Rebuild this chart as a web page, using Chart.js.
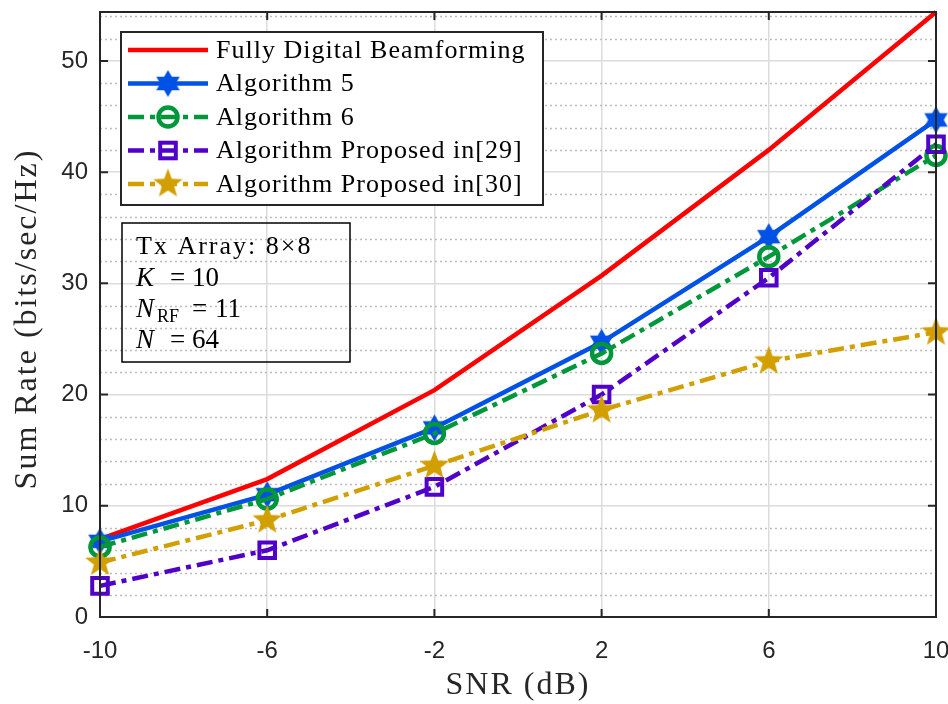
<!DOCTYPE html>
<html>
<head>
<meta charset="utf-8">
<script src="https://cdn.jsdelivr.net/npm/chart.js@4.4.1/dist/chart.umd.min.js"></script>
<style>
  html, body { margin: 0; padding: 0; background: #fff; }
  #wrap { position: relative; width: 948px; height: 704px; }
</style>
</head>
<body>
<div id="wrap"><canvas id="chart" width="948" height="704"></canvas></div>
<script>
// --- data ---
const snrDb = [-10, -6, -2, 2, 6, 10];
const fullyDigital = [7.0, 12.4, 20.4, 30.7, 42.0, 54.4];
const algorithm5 = [6.8, 11.0, 17.0, 24.7, 34.2, 44.7];
const algorithm6 = [6.3, 10.6, 16.5, 23.7, 32.4, 41.5];
const proposed29 = [2.8, 6.0, 11.7, 20.0, 30.5, 42.5];
const proposed30 = [4.9, 8.7, 13.6, 18.6, 23.0, 25.6];
const yTicks = [0, 10, 20, 30, 40, 50];
const seriesLabels = [
    'Fully Digital Beamforming',
    'Algorithm 5',
    'Algorithm 6',
    'Algorithm Proposed in[29]',
    'Algorithm Proposed in[30]',
];

const SERIF = '"Liberation Serif", "DejaVu Serif", serif';
const SANS = '"Liberation Sans", Arial, sans-serif';
const AXIS_COLOR = '#262626';

const COLORS = {
    red: '#ff0000',
    blue: '#0051e6',
    green: '#00963a',
    purple: '#5000c8',
    gold: '#d29f00',
};
const DASH_DOT = [16, 6, 5, 6];

// filled star marker drawn onto a small canvas (used as pointStyle)
function starMarker(points, outer, innerRatio, color) {
    const size = Math.ceil(outer * 2 + 4);
    const c = document.createElement('canvas');
    c.width = size;
    c.height = size;
    const ctx = c.getContext('2d');
    ctx.translate(size / 2, size / 2);
    ctx.beginPath();
    for (let i = 0; i < points * 2; i++) {
        const r = i % 2 === 0 ? outer : outer * innerRatio;
        const a = -Math.PI / 2 + i * Math.PI / points;
        const px = r * Math.cos(a), py = r * Math.sin(a);
        if (i === 0) ctx.moveTo(px, py); else ctx.lineTo(px, py);
    }
    ctx.closePath();
    ctx.fillStyle = color;
    ctx.fill();
    return c;
}

const hexagram = starMarker(6, 13.5, 0.577, COLORS.blue);
const pentagram = starMarker(5, 15.5, 0.42, COLORS.gold);

const toPoints = (arr) => snrDb.map((x, i) => ({ x, y: arr[i] }));

const datasets = [
    {
        label: seriesLabels[0], data: toPoints(fullyDigital),
        borderColor: COLORS.red, borderWidth: 4.5, pointRadius: 0, order: 5,
    },
    {
        label: seriesLabels[1], data: toPoints(algorithm5),
        borderColor: COLORS.blue, borderWidth: 4.5, pointStyle: hexagram, pointRadius: 13, order: 4,
    },
    {
        label: seriesLabels[2], data: toPoints(algorithm6),
        borderColor: COLORS.green, borderWidth: 4.5, borderDash: DASH_DOT,
        pointStyle: 'circle', pointRadius: 9.5, pointBorderWidth: 4.5,
        pointBackgroundColor: 'rgba(0,0,0,0)', pointBorderColor: COLORS.green, order: 3,
    },
    {
        label: seriesLabels[3], data: toPoints(proposed29),
        borderColor: COLORS.purple, borderWidth: 4.5, borderDash: DASH_DOT,
        pointStyle: 'rect', pointRadius: 11, pointBorderWidth: 4,
        pointBackgroundColor: 'rgba(0,0,0,0)', pointBorderColor: COLORS.purple, order: 2,
    },
    {
        label: seriesLabels[4], data: toPoints(proposed30),
        borderColor: COLORS.gold, borderWidth: 4.5, borderDash: DASH_DOT,
        pointStyle: pentagram, pointRadius: 15, order: 1,
    },
];
datasets.forEach(ds => { ds.fill = false; ds.tension = 0; ds.clip = false; });

// legend markers, same look as the plotted ones
function drawLegendMarker(ctx, idx, x, y) {
    ctx.save();
    ctx.setLineDash([]);
    if (idx === 1) ctx.drawImage(hexagram, x - hexagram.width / 2, y - hexagram.height / 2);
    if (idx === 4) ctx.drawImage(pentagram, x - pentagram.width / 2, y - pentagram.height / 2);
    if (idx === 2) {
        ctx.beginPath();
        ctx.arc(x, y, 9.5, 0, Math.PI * 2);
        ctx.lineWidth = 4.5;
        ctx.strokeStyle = COLORS.green;
        ctx.stroke();
    }
    if (idx === 3) {
        ctx.lineWidth = 4;
        ctx.strokeStyle = COLORS.purple;
        ctx.strokeRect(x - 7.8, y - 7.8, 15.6, 15.6);
    }
    ctx.restore();
}

const frameAndExtras = {
    id: 'frameAndExtras',
    beforeDatasetsDraw(chart) {
        // dotted minor grid along y
        const { ctx, chartArea: a, scales: { y } } = chart;
        ctx.save();
        ctx.strokeStyle = '#bdbdbd';
        ctx.lineWidth = 1.5;
        ctx.setLineDash([2, 3]);
        for (let v = 2; v < 54.4; v += 2) {
            if (v % 10 === 0) continue;
            const py = Math.round(y.getPixelForValue(v)) + 0.5;
            ctx.beginPath();
            ctx.moveTo(a.left, py);
            ctx.lineTo(a.right, py);
            ctx.stroke();
        }
        ctx.restore();
    },
    afterDatasetsDraw(chart) {
        const { ctx, chartArea: a, scales: { x, y } } = chart;
        ctx.save();
        // axes box + inward ticks
        ctx.strokeStyle = AXIS_COLOR;
        ctx.lineWidth = 2;
        ctx.strokeRect(a.left, a.top, a.right - a.left, a.bottom - a.top);
        const tl = 8;
        ctx.beginPath();
        snrDb.forEach(v => {
            const px = x.getPixelForValue(v);
            ctx.moveTo(px, a.bottom); ctx.lineTo(px, a.bottom - tl);
            ctx.moveTo(px, a.top); ctx.lineTo(px, a.top + tl);
        });
        yTicks.forEach(v => {
            const py = y.getPixelForValue(v);
            ctx.moveTo(a.left, py); ctx.lineTo(a.left + tl, py);
            ctx.moveTo(a.right, py); ctx.lineTo(a.right - tl, py);
        });
        ctx.stroke();

        // axis titles
        ctx.fillStyle = AXIS_COLOR;
        ctx.font = '32px ' + SERIF;
        ctx.letterSpacing = '2px';
        ctx.textAlign = 'center';
        ctx.textBaseline = 'middle';
        ctx.fillText('SNR (dB)', (a.left + a.right) / 2, 686);
        ctx.save();
        ctx.translate(28, 319);
        ctx.rotate(-Math.PI / 2);
        ctx.fillText('Sum Rate (bits/sec/Hz)', 0, 0);
        ctx.restore();

        // legend box
        const lx = 121, ly = 32, lw = 422, lh = 173;
        ctx.fillStyle = '#fff';
        ctx.fillRect(lx, ly, lw, lh);
        ctx.strokeStyle = AXIS_COLOR;
        ctx.lineWidth = 2;
        ctx.strokeRect(lx, ly, lw, lh);
        const rowY = [50, 83.5, 117, 150.5, 184];
        chart.data.datasets.forEach((ds, i) => {
            const ry = rowY[i];
            ctx.save();
            ctx.strokeStyle = ds.borderColor;
            ctx.lineWidth = ds.borderWidth;
            ctx.setLineDash(ds.borderDash || []);
            ctx.beginPath();
            ctx.moveTo(128, ry);
            ctx.lineTo(208, ry);
            ctx.stroke();
            ctx.restore();
            drawLegendMarker(ctx, i, 168, ry);
            ctx.fillStyle = '#000';
            ctx.font = '26px ' + SERIF;
            ctx.letterSpacing = '1px';
            ctx.textBaseline = 'middle';
            ctx.textAlign = 'left';
            ctx.fillText(ds.label, 216, ry + 1);
        });

        // parameter text box (transparent)
        ctx.strokeStyle = '#000';
        ctx.lineWidth = 1.5;
        ctx.strokeRect(122, 223, 228, 139);
        ctx.fillStyle = '#000';
        ctx.textBaseline = 'alphabetic';
        ctx.letterSpacing = '2px';
        const tx = 136;
        ctx.font = '26px ' + SERIF;
        ctx.fillText('Tx Array: 8\u00d78', tx, 254);
        ctx.letterSpacing = '0px';
        const put = (txt, font, px, py) => { ctx.font = font; ctx.fillText(txt, px, py); };
        const it = 'italic 27px ' + SERIF, rm = '27px ' + SERIF;
        put('K', it, tx, 286);
        put('=', rm, 170, 286);
        put('10', rm, 192, 286);
        put('N', it, tx, 317);
        put('RF', '18px ' + SERIF, 157, 322);
        put('=', rm, 192, 317);
        put('11', rm, 215, 317);
        put('N', it, tx, 348);
        put('=', rm, 170, 348);
        put('64', rm, 192, 348);
        ctx.restore();
    },
};

new Chart(document.getElementById('chart'), {
    type: 'line',
    data: { datasets },
    options: {
        responsive: false,
        animation: false,
        layout: { padding: 0, autoPadding: false },
        plugins: { legend: { display: false }, tooltip: { enabled: false } },
        scales: {
            x: {
                type: 'linear',
                min: -10,
                max: 10,
                afterBuildTicks: (s) => { s.ticks = snrDb.map(v => ({ value: v })); },
                afterFit: (s) => {
                    s.height = 87;
                    s.paddingLeft = 0;
                    s.paddingRight = 12;
                },
                grid: { color: '#dcdcdc', lineWidth: 1.5, drawTicks: false },
                border: { display: false },
                ticks: {
                    color: AXIS_COLOR,
                    font: { family: SANS, size: 24 },
                    padding: 20,
                    maxRotation: 0,
                    callback: (v) => String(v),
                },
            },
            y: {
                type: 'linear',
                min: 0,
                max: 54.4,
                afterBuildTicks: (s) => { s.ticks = yTicks.map(v => ({ value: v })); },
                afterFit: (s) => {
                    s.width = 100;
                    s.paddingTop = 12;
                    s.paddingBottom = 0;
                },
                grid: { color: '#dcdcdc', lineWidth: 1.5, drawTicks: false },
                border: { display: false },
                ticks: {
                    color: AXIS_COLOR,
                    font: { family: SANS, size: 24 },
                    padding: 12,
                },
            },
        },
    },
    plugins: [frameAndExtras],
});
</script>
</body>
</html>
